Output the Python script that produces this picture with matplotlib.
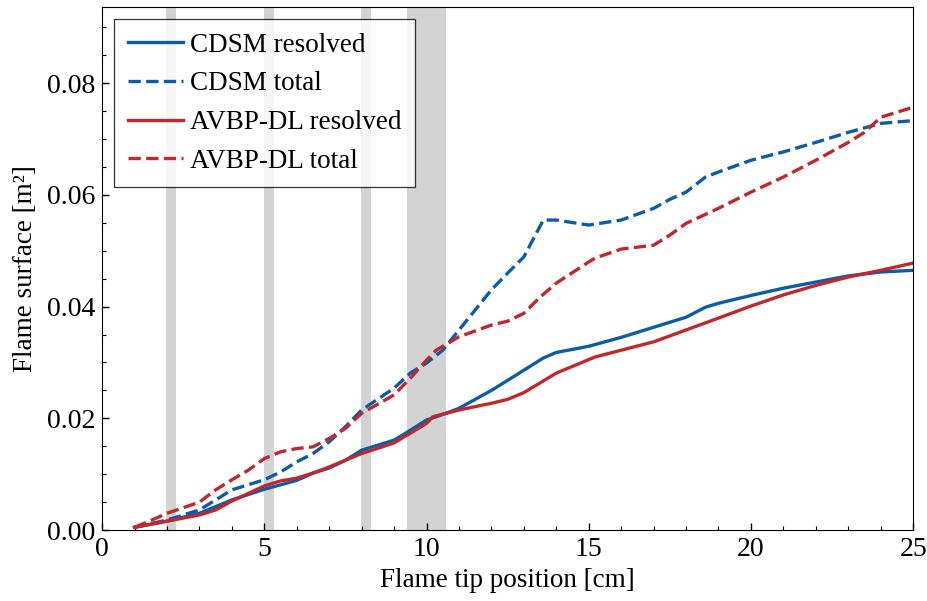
import matplotlib.pyplot as plt
import numpy as np
from matplotlib.ticker import MultipleLocator

plt.rcParams['font.family'] = ['Liberation Serif', 'DejaVu Serif']
plt.rcParams['mathtext.fontset'] = 'stix'

# flame tip position [cm]
x_cdsm_res = [1.0, 2.0, 3.0, 4.0, 5.0, 6.0, 6.5, 7.0, 7.5, 8.0, 9.0, 9.4, 10.0, 10.6, 11.0,
              12.0, 12.5, 13.6, 14.0, 15.0, 16.0, 17.0, 18.0, 18.6, 19.0, 20.0, 21.0,
              22.0, 23.0, 24.0, 25.0]
cdsm_res = [0.0005, 0.0016, 0.0030, 0.0054, 0.0073, 0.0089, 0.0102, 0.0111, 0.0125, 0.0143,
            0.0161, 0.0175, 0.0197, 0.0209, 0.0218, 0.0250, 0.0268, 0.0308, 0.0318, 0.0329,
            0.0345, 0.0363, 0.0381, 0.0399, 0.0406, 0.0420, 0.0433, 0.0444, 0.0455, 0.0462,
            0.0465]

x_cdsm_tot = [1.0, 2.0, 3.0, 4.0, 5.0, 5.5, 6.0, 6.5, 7.0, 7.5, 8.0, 9.0, 9.5, 10.0, 10.5,
              11.0, 11.5, 12.0, 12.5, 13.0, 13.6, 14.0, 15.0, 16.0, 17.0, 17.5, 18.0, 18.6,
              19.0, 20.0, 21.0, 22.0, 23.0, 24.0, 25.0]
cdsm_tot = [0.0005, 0.0018, 0.0036, 0.0072, 0.0090, 0.0104, 0.0122, 0.0137, 0.0158, 0.0185,
            0.0215, 0.0254, 0.0281, 0.0299, 0.0322, 0.0358, 0.0394, 0.0430, 0.0460, 0.0489,
            0.0555, 0.0555, 0.0546, 0.0555, 0.0576, 0.0592, 0.0605, 0.0632, 0.0641, 0.0662,
            0.0677, 0.0694, 0.0712, 0.0728, 0.0733]

x_avbp_res = [1.0, 2.0, 3.0, 3.5, 4.0, 5.0, 5.5, 6.0, 6.5, 7.0, 8.0, 9.0, 10.0, 10.2, 11.0,
              12.0, 12.5, 13.0, 14.0, 15.2, 16.0, 17.0, 18.65, 20.0, 21.0, 22.0, 23.0, 24.0,
              25.0]
avbp_res = [0.0005, 0.0016, 0.0027, 0.0036, 0.0052, 0.0079, 0.0088, 0.0093, 0.0102, 0.0113,
            0.0137, 0.0156, 0.0191, 0.0203, 0.0215, 0.0227, 0.0234, 0.0246, 0.0281, 0.0310,
            0.0322, 0.0337, 0.0372, 0.0401, 0.0421, 0.0438, 0.0453, 0.0465, 0.0478]

x_avbp_tot = [1.0, 1.5, 2.0, 3.0, 3.5, 4.0, 4.5, 5.0, 5.5, 6.0, 6.5, 7.0, 7.5, 8.0, 9.0, 9.5,
              10.0, 10.3, 11.0, 12.0, 12.5, 13.0, 13.5, 14.0, 15.0, 15.2, 16.0, 17.0, 17.5,
              18.0, 19.0, 20.0, 21.0, 22.0, 23.0, 23.5, 24.0, 25.0]
avbp_tot = [0.0005, 0.0017, 0.0030, 0.0050, 0.0072, 0.0090, 0.0107, 0.0128, 0.0140, 0.0146,
            0.0149, 0.0164, 0.0182, 0.0209, 0.0242, 0.0272, 0.0304, 0.0322, 0.0346, 0.0367,
            0.0374, 0.0388, 0.0417, 0.0442, 0.0480, 0.0487, 0.0503, 0.0510, 0.0528, 0.0549,
            0.0576, 0.0605, 0.0632, 0.0662, 0.0694, 0.0712, 0.0739, 0.0757]

# shaded intervals [cm]
bands = [(1.98, 2.29), (4.99, 5.30), (7.98, 8.28), (9.40, 10.59)]

blue = '#0C5DA5'
red = '#C1272D'

fig = plt.figure(figsize=(9.28, 6.01), dpi=100)
ax = fig.add_axes([0.110, 0.118, 0.874, 0.870])

for a, b in bands:
    ax.axvspan(a, b, color='#d3d3d3', lw=0, zorder=0)

lw = 2.4
ax.plot(x_cdsm_res, cdsm_res, color=blue, lw=lw, label='CDSM resolved')
ax.plot(x_cdsm_tot, cdsm_tot, color=blue, lw=lw, ls='--', label='CDSM total')
ax.plot(x_avbp_res, avbp_res, color=red, lw=lw, label='AVBP-DL resolved')
ax.plot(x_avbp_tot, avbp_tot, color=red, lw=lw, ls='--', label='AVBP-DL total')

ax.set_xlim(0, 25)
ax.set_ylim(0, 0.0936)
ax.xaxis.set_major_locator(MultipleLocator(5))
ax.xaxis.set_minor_locator(MultipleLocator(1))
ax.yaxis.set_major_locator(MultipleLocator(0.02))
ax.yaxis.set_minor_locator(MultipleLocator(0.005))
ax.yaxis.set_major_formatter(plt.FormatStrFormatter('%.2f'))
ax.tick_params(which='both', direction='in', labelsize=20, pad=5)
ax.tick_params(which='major', length=5, width=1)
ax.tick_params(which='minor', length=3, width=0.8)

ax.set_xlabel('Flame tip position [cm]', fontsize=19.5, labelpad=4)
ax.set_ylabel('Flame surface [m²]', fontsize=19.5, labelpad=6)

leg = ax.legend(loc='upper left', fontsize=19.5, fancybox=False, edgecolor='black',
                framealpha=0.8, handlelength=2.05, handletextpad=0.25,
                borderaxespad=0.45, labelspacing=0.5, borderpad=0.5)
leg.get_frame().set_linewidth(0.9)

fig.savefig('out.png', dpi=100)
